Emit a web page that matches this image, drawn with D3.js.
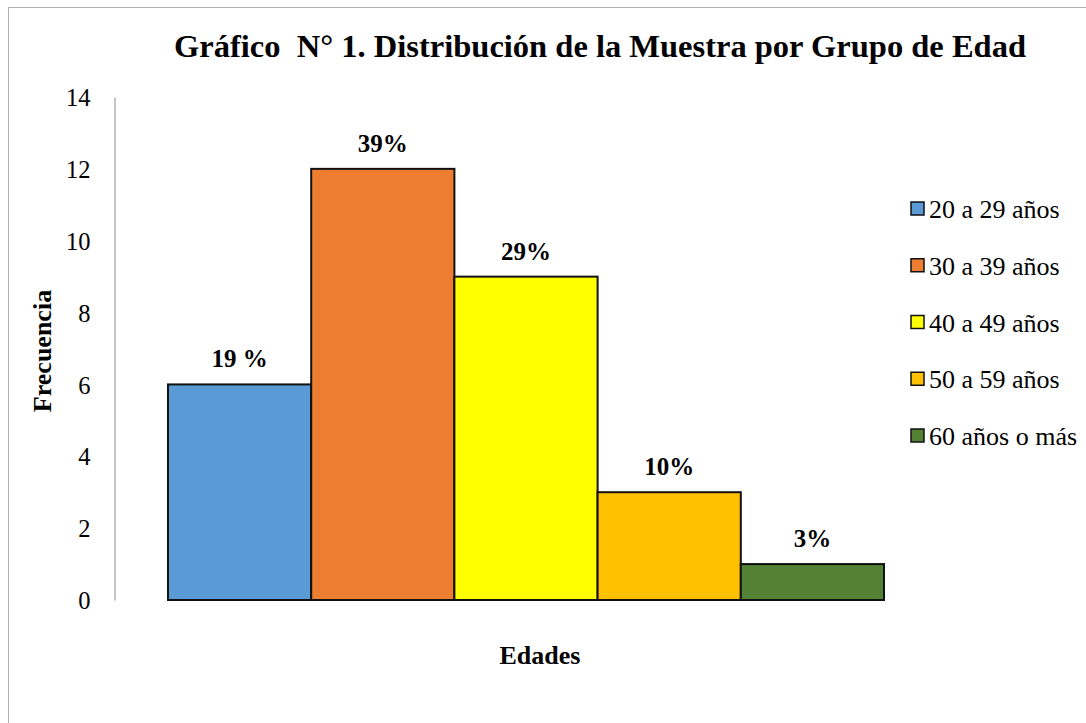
<!DOCTYPE html>
<html>
<head>
<meta charset="utf-8">
<script src="https://cdn.jsdelivr.net/npm/d3@7"></script>
<style>
	body { margin: 0; background: #fff; }
	svg text { font-family: 'Liberation Serif', serif !important; fill: #000; }
</style>
</head>
<body>
<svg width="1086" height="723"></svg>
<script>
const categories = ['20 a 29 años', '30 a 39 años', '40 a 49 años', '50 a 59 años', '60 años o más'];
const values = [6, 12, 9, 3, 1];
const labels = ['19 %', '39%', '29%', '10%', '3%'];
const colors = ['#5b9bd5', '#ed7d31', '#ffff00', '#ffc000', '#548235'];
const yTicks = [0, 2, 4, 6, 8, 10, 12, 14];

const svg = d3.select('svg');

// chart frame, runs off the right and bottom edges
svg.append('rect')
	.attr('x', 8.5)
	.attr('y', 7.5)
	.attr('width', 1100)
	.attr('height', 740)
	.attr('fill', 'none')
	.attr('stroke', '#b0b0b0')
	.attr('stroke-width', 1);

const x = d3.scaleBand().domain(categories).range([168, 884]).padding(0);
const y = d3.scaleLinear().domain([0, 14]).range([600, 97]);

const yAxis = svg.append('g')
	.attr('transform', 'translate(114.5,0)')
	.attr('font-family', 'Liberation Serif')
	.call(d3.axisLeft(y).tickValues(yTicks).tickSize(0).tickPadding(24));
yAxis.select('.domain').attr('stroke', '#898989');
yAxis.selectAll('text')
	.style('font-size', '24.5px')
	.attr('dy', '0.35em');

svg.append('g')
	.selectAll('rect')
	.data(values)
	.join('rect')
	.attr('x', (d, i) => x(categories[i]))
	.attr('y', d => y(d))
	.attr('width', x.bandwidth())
	.attr('height', d => y(0) - y(d))
	.attr('fill', (d, i) => colors[i])
	.attr('stroke', '#111')
	.attr('stroke-width', 2);

svg.append('g')
	.selectAll('text')
	.data(values)
	.join('text')
	.attr('x', (d, i) => x(categories[i]) + x.bandwidth() / 2)
	.attr('y', d => y(d) - 17)
	.attr('text-anchor', 'middle')
	.style('font-size', '25px')
	.style('font-weight', 'bold')
	.text((d, i) => labels[i]);

svg.append('text')
	.attr('x', 600)
	.attr('y', 57)
	.attr('text-anchor', 'middle')
	.style('font-size', '32.5px')
	.style('font-weight', 'bold')
	.style('white-space', 'pre')
	.text('Gráfico  N° 1. Distribución de la Muestra por Grupo de Edad');

svg.append('text')
	.attr('transform', 'translate(51,351) rotate(-90)')
	.attr('text-anchor', 'middle')
	.style('font-size', '26px')
	.style('font-weight', 'bold')
	.text('Frecuencia');

svg.append('text')
	.attr('x', 540)
	.attr('y', 664)
	.attr('text-anchor', 'middle')
	.style('font-size', '26px')
	.style('font-weight', 'bold')
	.text('Edades');

const legend = svg.append('g')
	.selectAll('g')
	.data(categories)
	.join('g')
	.attr('transform', (d, i) => 'translate(911,' + (202 + i * 56.75) + ')');

legend.append('rect')
	.attr('width', 13)
	.attr('height', 13)
	.attr('fill', (d, i) => colors[i])
	.attr('stroke', '#111')
	.attr('stroke-width', 1.5);

legend.append('text')
	.attr('x', 18)
	.attr('y', 16)
	.style('font-size', '26px')
	.text(d => d);
</script>
</body>
</html>
